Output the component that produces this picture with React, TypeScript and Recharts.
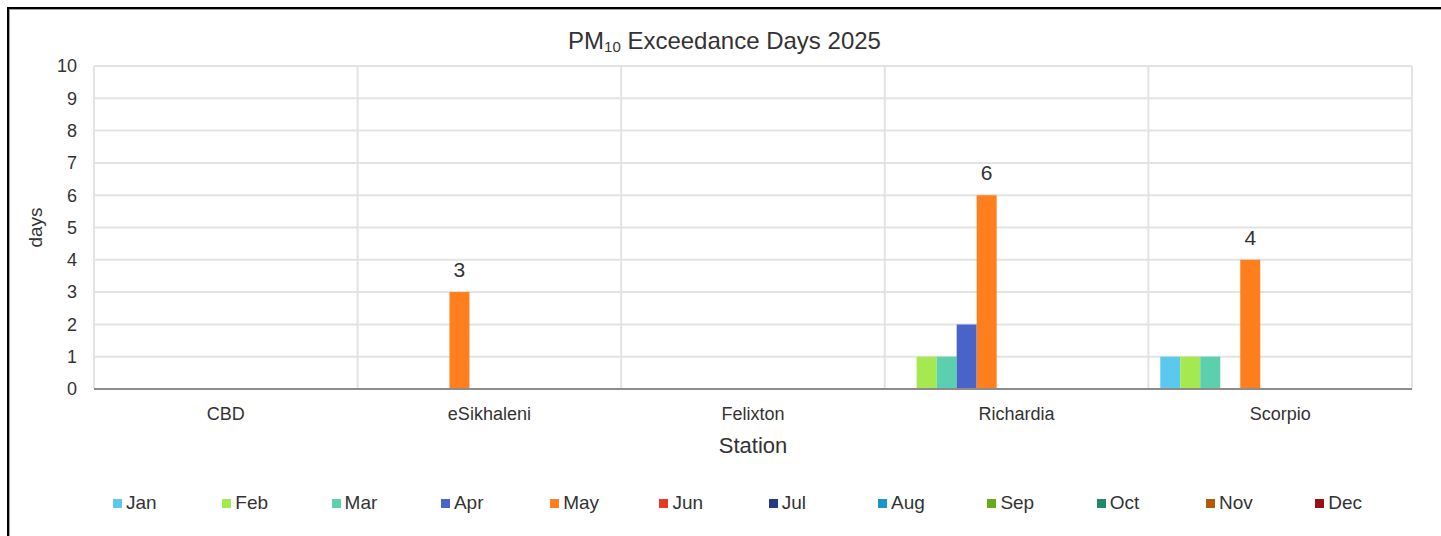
import { Bar, BarChart, CartesianGrid, Label, LabelList, Legend, XAxis, YAxis } from "recharts";

const stations = ["CBD", "eSikhaleni", "Felixton", "Richardia", "Scorpio"];
const months = ["Jan", "Feb", "Mar", "Apr", "May", "Jun", "Jul", "Aug", "Sep", "Oct", "Nov", "Dec"];
const colors = ["#5bc8f0", "#a6e84f", "#5ccfae", "#4a63c8", "#ff7f1e", "#e83a22", "#273a8a", "#1a96c8", "#6aaa1a", "#1f8a6a", "#b35a0a", "#9a1010"];
const yTicks = [0, 1, 2, 3, 4, 5, 6, 7, 8, 9, 10];

// exceedance days per station, one array per month
const jan = [0, 0, 0, 0, 1];
const feb = [0, 0, 0, 1, 1];
const mar = [0, 0, 0, 1, 1];
const apr = [0, 0, 0, 2, 0];
const may = [0, 3, 0, 6, 4];
const jun = [0, 0, 0, 0, 0];
const jul = [0, 0, 0, 0, 0];
const aug = [0, 0, 0, 0, 0];
const sep = [0, 0, 0, 0, 0];
const oct = [0, 0, 0, 0, 0];
const nov = [0, 0, 0, 0, 0];
const dec = [0, 0, 0, 0, 0];

const monthValues = [jan, feb, mar, apr, may, jun, jul, aug, sep, oct, nov, dec];

const data = stations.map((station, i) => {
  const row: Record<string, string | number> = { station };
  months.forEach((m, j) => {
    row[m] = monthValues[j][i];
  });
  return row;
});

const font = "'Liberation Sans', Arial, sans-serif";
const textColor = "#333333";

const LegendContent = () => (
  <div style={{ display: "flex", height: 24, alignItems: "center", paddingLeft: 113, fontFamily: font }}>
    {months.map((m, i) => (
      <div key={m} style={{ width: 109.3, display: "flex", alignItems: "center", flexShrink: 0 }}>
        <span style={{ width: 9, height: 9, background: colors[i], display: "inline-block", marginRight: 4 }} />
        <span style={{ fontSize: 19, color: textColor }}>{m}</span>
      </div>
    ))}
  </div>
);

const App = () => {
  return (
    <div style={{ position: "absolute", left: 0, top: 0, width: 1441, height: 536, background: "#fff", fontFamily: font }}>
      <div
        style={{
          position: "absolute",
          left: 7,
          top: 7,
          right: 0,
          bottom: 0,
          borderLeft: "2px solid #000",
          borderTop: "2px solid #000",
          boxShadow: "inset 1px 1px 0 #a0a0a0",
        }}
      />
      <div
        style={{
          position: "absolute",
          left: 8,
          width: 1433,
          top: 26,
          textAlign: "center",
          fontSize: 24,
          color: textColor,
          lineHeight: "30px",
        }}
      >
        PM<sub style={{ fontSize: 15, verticalAlign: "-3px" }}>10</sub> Exceedance Days 2025
      </div>
      <BarChart
        width={1441}
        height={536}
        data={data}
        margin={{ top: 66, right: 29, bottom: 0, left: 0 }}
        barCategoryGap="4.5%"
        barGap={0}
        style={{ position: "absolute", left: 0, top: 0 }}
      >
        <CartesianGrid
          stroke="#e3e3e3"
          strokeWidth={2}
          verticalCoordinatesGenerator={({ offset }: any) =>
            [0, 1, 2, 3, 4, 5].map((i) => offset.left + (i * offset.width) / stations.length)
          }
        />
        <XAxis
          dataKey="station"
          height={123}
          tickLine={false}
          axisLine={{ stroke: "#8c8c8c", strokeWidth: 2 }}
          tickMargin={12}
          tick={{ fill: textColor, fontSize: 18, fontFamily: font }}
        >
          <Label value="Station" position="insideTop" offset={48} fill={textColor} fontSize={22} fontFamily={font} />
        </XAxis>
        <YAxis
          width={94}
          domain={[0, 10]}
          ticks={yTicks}
          interval={0}
          tickLine={false}
          axisLine={false}
          tickMargin={11}
          tick={{ fill: textColor, fontSize: 18, fontFamily: font }}
        >
          <Label value="days" position="center" angle={-90} dx={-12} fill={textColor} fontSize={19} fontFamily={font} />
        </YAxis>
        <Legend
          verticalAlign="bottom"
          content={<LegendContent />}
          wrapperStyle={{ left: 0, top: 491, width: 1441 }}
        />
        {months.map((m, i) => (
          <Bar key={m} dataKey={m} fill={colors[i]} isAnimationActive={false}>
            {m === "May" && (
              <LabelList
                dataKey={m}
                position="top"
                offset={15}
                fill={textColor}
                fontSize={21}
                fontFamily={font}
                formatter={(v: any) => (v > 0 ? v : "")}
              />
            )}
          </Bar>
        ))}
      </BarChart>
    </div>
  );
};

export default App;
